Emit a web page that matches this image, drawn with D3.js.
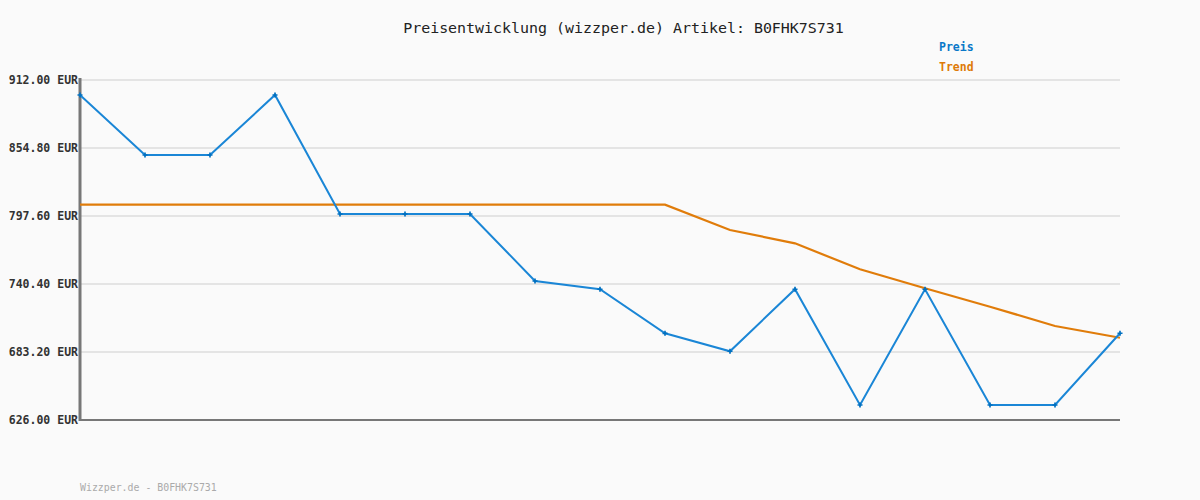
<!DOCTYPE html>
<html><head><meta charset="utf-8">
<script src="https://cdn.jsdelivr.net/npm/d3@7"></script>
<style>html,body{margin:0;padding:0;background:#fafafa;}svg{display:block;}</style>
</head><body>
<svg id="c" width="1200" height="500"></svg>
<script>
const titleText = "Preisentwicklung (wizzper.de) Artikel: B0FHK7S731";
const footerText = "Wizzper.de - B0FHK7S731";
const seriesNames = ["Preis", "Trend"];
const indices = d3.range(17);
const preis = [899.4, 848.9, 848.9, 899.4, 799.3, 799.3, 799.3, 742.9, 736.0, 698.9, 683.8, 736.0, 638.6, 736.0, 638.6, 638.6, 699.0];
const trend = [807.1, 807.1, 807.1, 807.1, 807.1, 807.1, 807.1, 807.1, 807.1, 807.1, 785.8, 774.6, 752.8, 736.8, 721.3, 705.1, 695.2];
const yTicks = [626.00, 683.20, 740.40, 797.60, 854.80, 912.00];

const svg = d3.select("#c");
const font = "'DejaVu Sans Mono', 'Liberation Mono', monospace";
const x = d3.scaleLinear().domain([0, 16]).range([80, 1120]);
const y = d3.scaleLinear().domain([626, 912]).range([420, 80]);

svg.append("rect").attr("width",1200).attr("height",500).attr("fill","#fafafa");

// gridlines
svg.append("g").selectAll("line").data(yTicks.slice(1)).join("line")
  .attr("x1",80).attr("x2",1120).attr("y1",d=>y(d)).attr("y2",d=>y(d))
  .attr("stroke","#e4e4e4").attr("stroke-width",2);

// y axis labels via d3 axis
const yAxis = d3.axisLeft(y).tickValues(yTicks).tickSize(0).tickPadding(2)
  .tickFormat(d => d.toFixed(2) + " EUR");
const ga = svg.append("g").attr("transform","translate(80,0)").call(yAxis);
ga.select(".domain").remove();
ga.selectAll("text").attr("font-family",font).attr("font-size",11.5).attr("font-weight","bold").attr("fill","#333");

// axes lines
svg.append("line").attr("x1",80).attr("x2",80).attr("y1",78).attr("y2",421).attr("stroke","#777").attr("stroke-width",3);
svg.append("line").attr("x1",79).attr("x2",1120).attr("y1",420).attr("y2",420).attr("stroke","#777").attr("stroke-width",2);

const line = d3.line().x((d,i)=>x(indices[i])).y(d=>y(d));

svg.append("path").datum(trend).attr("d",line).attr("fill","none").attr("stroke","#e07c0a").attr("stroke-width",2.2);
svg.append("path").datum(preis).attr("d",line).attr("fill","none").attr("stroke","#1a86d6").attr("stroke-width",2);

// markers (small plus)
const sym = d3.symbol().type(d3.symbolCross).size(14);
svg.append("g").selectAll("path").data(preis).join("path")
  .attr("d",sym).attr("transform",(d,i)=>`translate(${x(indices[i])},${y(d)})`).attr("fill","#0070c0");

// title
svg.append("text").attr("x",623.5).attr("y",33).attr("text-anchor","middle")
  .attr("font-family",font).attr("font-size",14.95).attr("fill","#222").text(titleText);

// legend
svg.append("text").attr("x",939).attr("y",51).attr("font-family",font).attr("font-size",11.5).attr("font-weight","bold").attr("fill","#0a78c8").text(seriesNames[0]);
svg.append("text").attr("x",939).attr("y",71).attr("font-family",font).attr("font-size",11.5).attr("font-weight","bold").attr("fill","#de7a08").text(seriesNames[1]);

// footer
svg.append("text").attr("x",80).attr("y",491).attr("font-family",font).attr("font-size",9.9).attr("fill","#aaa").text(footerText);
</script>
</body></html>
